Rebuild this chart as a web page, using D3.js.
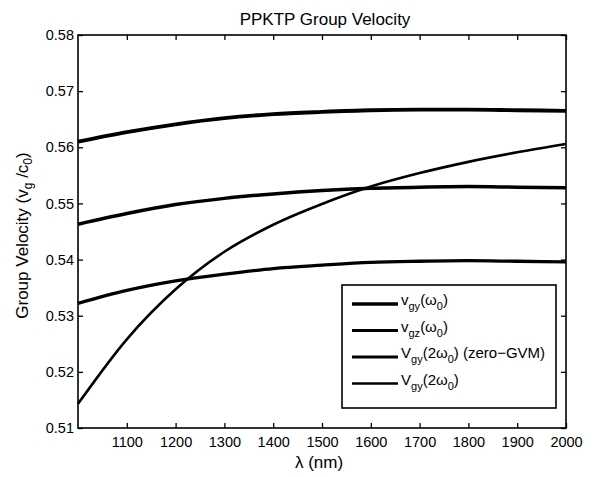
<!DOCTYPE html>
<html>
<head>
<meta charset="utf-8">
<script src="https://cdn.jsdelivr.net/npm/d3@7"></script>
<style>
  body { margin: 0; background: #fff; }
  svg, svg text { font-family: "Liberation Sans", Arial, Helvetica, sans-serif; }
</style>
</head>
<body>
<svg class="svg-chart"></svg>
<script>
// wavelengths (nm) the curves are read at
var lambda = [1000, 1100, 1200, 1300, 1400, 1500, 1600, 1700, 1800, 1900, 2000];

// group velocities, in units of c0
var vgyOmega = [0.5610, 0.5627, 0.5641, 0.5652, 0.5659, 0.5663, 0.5666, 0.5667, 0.5667, 0.5666, 0.5665];
var vgzOmega = [0.5463, 0.5482, 0.5498, 0.5509, 0.5517, 0.5523, 0.5527, 0.5529, 0.5530, 0.5529, 0.5528];
var VgyZeroGvm = [0.5322, 0.5345, 0.5362, 0.5374, 0.5384, 0.5390, 0.5395, 0.5397, 0.5398, 0.5397, 0.5396];
var Vgy2Omega = [0.5143, 0.5258, 0.5347, 0.5414, 0.5462, 0.5499, 0.5530, 0.5554, 0.5574, 0.5591, 0.5606];

var xTicks = [1100, 1200, 1300, 1400, 1500, 1600, 1700, 1800, 1900, 2000];
var yTicks = [0.51, 0.52, 0.53, 0.54, 0.55, 0.56, 0.57, 0.58];

var margin = {top: 35, right: 28, bottom: 49, left: 78},
    width = 594 - margin.left - margin.right,
    height = 477 - margin.top - margin.bottom;

var x = d3.scaleLinear()
    .domain([1000, 2000])
    .range([0, width]);

var y = d3.scaleLinear()
    .domain([0.51, 0.58])
    .range([height, 0]);

var svg = d3.select(".svg-chart")
    .attr("width", 594)
    .attr("height", 477);

var chart = svg.append("g")
    .attr("transform", "translate(" + margin.left + "," + margin.top + ")");

// axes, ticks point inward like matlab
var tickLen = 5;
chart.append("g")
    .attr("transform", "translate(0," + height + ")")
    .call(d3.axisBottom(x).tickValues(xTicks).tickSizeInner(-tickLen).tickSizeOuter(0).tickPadding(9).tickFormat(d3.format("d")));
chart.append("g")
    .call(d3.axisTop(x).tickValues(xTicks).tickSizeInner(-tickLen).tickSizeOuter(0).tickFormat(""));
chart.append("g")
    .call(d3.axisLeft(y).tickValues(yTicks).tickSizeInner(-tickLen).tickSizeOuter(0).tickPadding(4).tickFormat(d3.format(".2f")));
chart.append("g")
    .attr("transform", "translate(" + width + ",0)")
    .call(d3.axisRight(y).tickValues(yTicks).tickSizeInner(-tickLen).tickSizeOuter(0).tickFormat(""));

chart.selectAll(".domain").remove();
chart.selectAll(".tick line").attr("stroke", "#000").attr("stroke-width", 1.3);
chart.selectAll("g").attr("font-family", null).attr("font-size", null);
chart.selectAll(".tick text")
    .attr("fill", "#000")
    .style("font-size", "14.5px");

// box round the plot
chart.append("rect")
    .attr("width", width)
    .attr("height", height)
    .attr("fill", "none")
    .attr("stroke", "#000")
    .attr("stroke-width", 1.6);

var series = [
  {label: "vgy", values: vgyOmega, w: 3.8},
  {label: "vgz", values: vgzOmega, w: 3.5},
  {label: "zero", values: VgyZeroGvm, w: 3.3},
  {label: "Vgy", values: Vgy2Omega, w: 2.6}
];

var line = d3.line()
    .x(function(d, i) { return x(lambda[i]); })
    .y(function(d) { return y(d); })
    .curve(d3.curveMonotoneX);

chart.selectAll(".curve")
    .data(series)
    .enter().append("path")
    .attr("class", "curve")
    .attr("d", function(d) { return line(d.values); })
    .attr("fill", "none")
    .attr("stroke", "#000")
    .attr("stroke-width", function(d) { return d.w; })
    .attr("stroke-linejoin", "round");

// title and axis labels
svg.append("text")
    .attr("x", margin.left + width / 2 + 3)
    .attr("y", 25)
    .attr("text-anchor", "middle")
    .style("font-size", "17px")
    .text("PPKTP Group Velocity");

svg.append("text")
    .attr("x", margin.left + width / 2 - 3)
    .attr("y", 468)
    .attr("text-anchor", "middle")
    .style("font-size", "17px")
    .text("\u03bb (nm)");

var ylab = svg.append("text")
    .attr("transform", "translate(28," + (margin.top + height / 2 + 4) + ") rotate(-90)")
    .attr("text-anchor", "middle")
    .style("font-size", "17px");
ylab.append("tspan").text("Group Velocity (v");
ylab.append("tspan").attr("dy", 4).style("font-size", "12px").text("g");
ylab.append("tspan").attr("dy", -4).text(" /c");
ylab.append("tspan").attr("dy", 4).style("font-size", "12px").text("0");
ylab.append("tspan").attr("dy", -4).text(")");

// legend
var legend = svg.append("g").attr("transform", "translate(342,285)");
legend.append("rect")
    .attr("width", 214)
    .attr("height", 123)
    .attr("fill", "#fff")
    .attr("stroke", "#000")
    .attr("stroke-width", 1.6);

var legendText = [
  [["v", 0], ["gy", 1], ["(\u03c9", 0], ["0", 1], [")", 0]],
  [["v", 0], ["gz", 1], ["(\u03c9", 0], ["0", 1], [")", 0]],
  [["V", 0], ["gy", 1], ["(2\u03c9", 0], ["0", 1], [") (zero\u2212GVM)", 0]],
  [["V", 0], ["gy", 1], ["(2\u03c9", 0], ["0", 1], [")", 0]]
];

series.forEach(function(s, i) {
  var ly = 19 + i * 26.5;
  legend.append("line")
      .attr("x1", 10).attr("x2", 56)
      .attr("y1", ly).attr("y2", ly)
      .attr("stroke", "#000")
      .attr("stroke-width", s.w - 0.3);
  var t = legend.append("text")
      .attr("x", 59)
      .attr("y", ly + 1)
      .style("font-size", "15px");
  var prevSub = 0;
  legendText[i].forEach(function(part) {
    var sub = part[1];
    var ts = t.append("tspan").text(part[0]);
    if (sub !== prevSub) ts.attr("dy", sub ? 5 : -5);
    if (sub) ts.style("font-size", "11px");
    prevSub = sub;
  });
});
</script>
</body>
</html>
